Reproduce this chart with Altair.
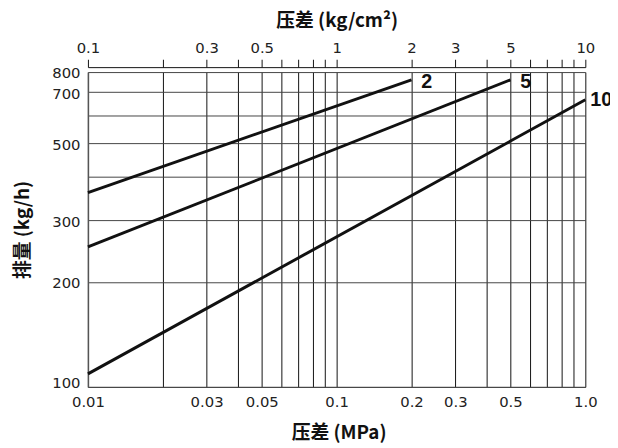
import altair as alt
import pandas as pd

# ---- data ----
series = ["2", "5", "10"]
dp_start = [0.01, 0.01, 0.01]          # MPa
flow_start = [361, 252, 109]           # kg/h
dp_end = [0.2, 0.5, 1.0]               # MPa
flow_end = [760, 760, 666]             # kg/h

x_grid = [0.01, 0.02, 0.03, 0.04, 0.05, 0.06, 0.07, 0.08, 0.09,
          0.1, 0.2, 0.3, 0.4, 0.5, 0.6, 0.7, 0.8, 0.9, 1.0]
x_label_vals = [0.01, 0.03, 0.05, 0.1, 0.2, 0.3, 0.5, 1.0]
x_label_txt = ["0.01", "0.03", "0.05", "0.1", "0.2", "0.3", "0.5", "1.0"]

top_ticks = [0.1, 0.2, 0.3, 0.4, 0.5, 0.6, 0.7, 0.8, 0.9,
             1, 2, 3, 4, 5, 6, 7, 8, 9, 10]
top_label_vals = [0.1, 0.3, 0.5, 1, 2, 3, 5, 10]
top_label_txt = ["0.1", "0.3", "0.5", "1", "2", "3", "5", "10"]
top_domain = [0.1, 10]

y_grid = [100, 200, 300, 400, 500, 600, 700, 800]
y_label_vals = [100, 200, 300, 500, 700, 800]
y_label_txt = ["100", "200", "300", "500", "700", "800"]


def label_expr(vals, txts):
    parts = [f"datum.value == {v} ? '{t}'" for v, t in zip(vals, txts)]
    return " : ".join(parts) + " : ''"


rows = []
for s, x0, y0, x1, y1 in zip(series, dp_start, flow_start, dp_end, flow_end):
    rows.append({"series": s, "dp": x0, "flow": y0, "o": 0})
    rows.append({"series": s, "dp": x1, "flow": y1, "o": 1})
lines_df = pd.DataFrame(rows)
ends_df = pd.DataFrame({"series": series, "dp": dp_end, "flow": flow_end})
top_df = pd.DataFrame({"kg": top_domain})

W, H = 504, 319
FONT = "DejaVu Sans"
CJK = "Noto Sans CJK SC"

x_scale = alt.Scale(type="log", domain=[0.01, 1.0], nice=False)
y_scale = alt.Scale(type="log", domain=[100, 800], nice=False)

x_axis = alt.Axis(
    values=x_grid, labelExpr=label_expr(x_label_vals, x_label_txt),
    grid=True, gridColor="#111111", gridWidth=1, gridOpacity=1,
    ticks=False, tickSize=0, domain=True, domainColor="#444444",
    labelPadding=8, labelFlush=False, labelOverlap=False,
    title="压差 (MPa)", titleX=W / 2 + 2, titleY=46,
    titleBaseline="middle", titleAlign="center",
)
y_axis = alt.Axis(
    values=y_grid, labelExpr=label_expr(y_label_vals, y_label_txt),
    grid=True, gridColor="#444444", gridWidth=1, gridOpacity=1,
    ticks=False, tickSize=0, domain=True, domainColor="#555555", domainWidth=1.5,
    labelPadding=8, labelOverlap=False,
    labelOffset={"condition": {"test": "datum.value == 100", "value": -4}, "value": 1},
    title="排量 (kg/h)", titleX=-66, titleY=H / 2,
    titleBaseline="middle", titleAlign="center", titleAngle=270,
)

lines = alt.Chart(lines_df).mark_line(color="#111111", strokeWidth=3).encode(
    x=alt.X("dp:Q", scale=x_scale, axis=x_axis),
    y=alt.Y("flow:Q", scale=y_scale, axis=y_axis),
    detail="series:N",
    order="o:Q",
)

text_style = dict(align="left", baseline="middle", font="Liberation Sans",
                  fontSize=20, fontWeight="bold", color="#111111")
text_enc = dict(
    x=alt.X("dp:Q", scale=x_scale),
    y=alt.Y("flow:Q", scale=y_scale),
    text="series:N",
)
labels_a = alt.Chart(ends_df).transform_filter(
    "datum.series != '10'"
).mark_text(dx=10, dy=2, **text_style).encode(**text_enc)
labels_b = alt.Chart(ends_df).transform_filter(
    "datum.series == '10'"
).mark_text(dx=5, dy=0, **text_style).encode(**text_enc)

main = alt.layer(lines, labels_a, labels_b)

top_axis = alt.Chart(top_df).mark_point(opacity=0).encode(
    x=alt.X("kg:Q", scale=alt.Scale(type="log", domain=top_domain, nice=False),
            axis=alt.Axis(
                orient="top", values=top_ticks,
                labelExpr=label_expr(top_label_vals, top_label_txt),
                grid=False, ticks=True, tickSize=8, tickColor="#111111", tickWidth=1,
                domain=True, domainColor="#111111", domainWidth=1,
                offset=5, labelPadding=4, labelFlush=False, labelOverlap=False,
                title="压差 (kg/cm²)", titleX=W / 2, titleY=-47,
                titleBaseline="middle", titleAlign="center",
            )),
)

chart = alt.layer(main, top_axis).resolve_scale(x="independent").properties(
    width=W, height=H,
    autosize=alt.AutoSizeParams(type="none"),
    padding={"left": 81, "top": 62, "right": 25, "bottom": 59},
    background="white",
).configure_view(stroke="transparent").configure_axis(
    labelFont=FONT, labelFontSize=15, labelColor="#222222",
    titleFont=CJK, titleFontSize=19, titleFontWeight="bold", titleColor="#111111",
)

chart.save("out.html", embed_options={"renderer": "svg", "actions": False})
